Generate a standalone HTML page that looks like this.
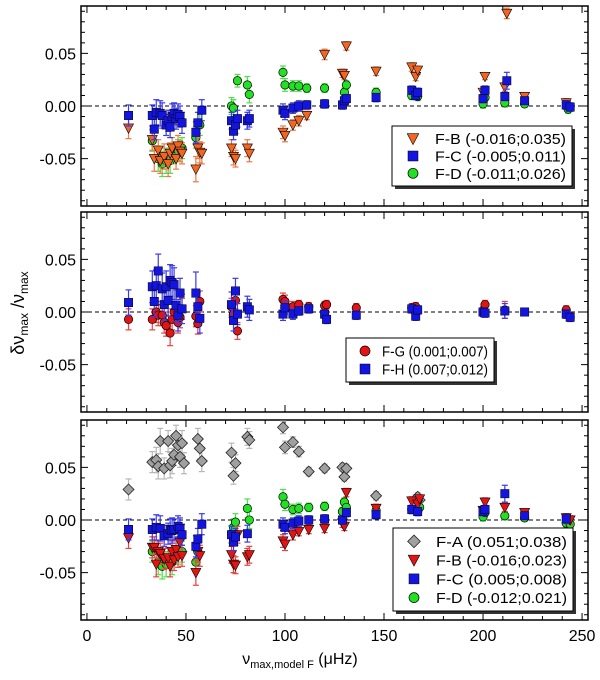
<!DOCTYPE html>
<html><head><meta charset="utf-8"><style>
html,body{margin:0;padding:0;background:#fff;}
svg{display:block;font-family:"Liberation Sans",sans-serif;}
</style></head><body>
<svg id="chart" width="600" height="680" viewBox="0 0 600 680" xmlns="http://www.w3.org/2000/svg"></svg>
<script>
// ---- data: [x (μHz), y (δν/ν), error] ----
const xTicks = [0, 50, 100, 150, 200, 250];
const yTicks = [-0.05, 0.00, 0.05];
const yTickLabels = ["-0.05", "0.00", "0.05"];

const p1FB = [[21,-0.021,0.010],[33,-0.032,0.010],[34,-0.050,0.012],[36,-0.042,0.010],[37,-0.052,0.012],[39,-0.048,0.012],[41,-0.055,0.012],[42,-0.045,0.010],[43,-0.040,0.010],[45,-0.050,0.010],[46,-0.038,0.010],[47,-0.043,0.010],[48,-0.045,0.010],[55,-0.060,0.012],[56,-0.040,0.010],[57,-0.044,0.010],[58,-0.045,0.010],[73,-0.040,0.008],[74,-0.048,0.008],[75,-0.050,0.008],[81,-0.040,0.008],[82,-0.045,0.008],[99,-0.025,0.006],[100,-0.028,0.006],[104,-0.018,0.005],[107,-0.014,0.005],[111,-0.009,0.004],[120,0.049,0.005],[129,0.031,0.004],[130,0.029,0.004],[131,0.057,0.004],[146,0.033,0.004],[164,0.037,0.004],[166,0.028,0.004],[167,0.034,0.004],[200,0.013,0.004],[201,0.028,0.003],[211,0.018,0.004],[212,0.088,0.005],[221,0.009,0.003],[242,0.003,0.004]];
const p1FC = [[21,-0.009,0.010],[33,-0.009,0.010],[34,-0.022,0.010],[35,-0.006,0.012],[37,-0.007,0.012],[38,-0.009,0.012],[40,-0.018,0.010],[41,-0.014,0.010],[42,-0.020,0.010],[43,-0.010,0.012],[44,-0.007,0.010],[45,-0.012,0.010],[46,-0.008,0.010],[47,-0.010,0.010],[48,-0.016,0.010],[55,-0.025,0.010],[56,-0.016,0.010],[58,-0.004,0.010],[73,-0.014,0.008],[74,-0.024,0.008],[75,-0.018,0.008],[76,-0.012,0.008],[81,-0.014,0.008],[82,-0.012,0.008],[99,-0.004,0.006],[100,-0.007,0.006],[104,-0.002,0.005],[107,0.000,0.005],[111,0.001,0.004],[120,0.002,0.004],[129,0.001,0.004],[130,0.005,0.004],[131,0.007,0.004],[146,0.008,0.004],[164,0.015,0.004],[166,0.010,0.004],[167,0.013,0.004],[200,0.007,0.004],[201,0.015,0.004],[211,0.009,0.004],[212,0.024,0.008],[221,0.005,0.003],[242,0.001,0.004],[244,-0.001,0.004]];
const p1FD = [[33,-0.033,0.010],[36,-0.050,0.012],[38,-0.055,0.012],[40,-0.052,0.012],[42,-0.052,0.012],[44,-0.045,0.010],[46,-0.042,0.010],[48,-0.040,0.010],[55,-0.030,0.010],[57,-0.018,0.010],[73,0.000,0.008],[74,-0.002,0.008],[76,0.024,0.006],[81,0.020,0.008],[82,0.011,0.008],[99,0.032,0.006],[100,0.020,0.006],[104,0.019,0.005],[107,0.019,0.005],[111,0.017,0.004],[120,0.017,0.004],[130,0.013,0.004],[131,0.020,0.004],[146,0.013,0.004],[164,0.010,0.004],[167,0.009,0.004],[200,0.002,0.004],[201,0.008,0.004],[211,0.003,0.004],[221,0.002,0.003],[243,-0.003,0.004]];

const p2FG = [[21,-0.007,0.010],[33,-0.007,0.010],[35,0.000,0.010],[36,-0.003,0.010],[38,-0.003,0.010],[39,-0.010,0.010],[40,-0.013,0.010],[42,-0.020,0.012],[43,-0.007,0.010],[44,0.000,0.010],[46,-0.010,0.010],[47,-0.005,0.010],[48,0.003,0.010],[55,-0.004,0.010],[56,-0.011,0.010],[57,0.010,0.010],[73,0.005,0.008],[74,-0.002,0.008],[75,0.011,0.008],[76,-0.018,0.008],[99,0.012,0.006],[100,0.010,0.006],[104,0.005,0.005],[107,0.007,0.004],[112,0.005,0.004],[120,0.006,0.004],[121,0.007,0.004],[136,0.004,0.004],[164,0.004,0.004],[166,0.005,0.004],[200,0.001,0.004],[201,0.007,0.004],[211,0.002,0.008],[242,0.002,0.004],[244,-0.005,0.004]];
const p2FH = [[21,0.009,0.012],[33,0.024,0.015],[34,0.010,0.015],[35,0.025,0.015],[36,0.039,0.016],[38,0.022,0.015],[39,0.007,0.015],[40,0.024,0.015],[41,0.011,0.015],[42,0.030,0.015],[43,0.028,0.016],[44,0.026,0.016],[45,0.006,0.015],[46,-0.003,0.015],[47,0.018,0.014],[48,0.003,0.014],[55,0.018,0.020],[56,0.005,0.014],[57,-0.006,0.014],[73,0.007,0.012],[74,-0.008,0.010],[75,0.020,0.012],[76,-0.002,0.010],[81,0.005,0.010],[82,0.002,0.010],[99,-0.002,0.006],[100,0.004,0.006],[104,-0.002,0.005],[107,0.001,0.004],[112,0.003,0.004],[120,-0.002,0.004],[121,-0.007,0.004],[136,-0.003,0.004],[164,0.003,0.004],[166,-0.004,0.004],[167,0.002,0.004],[200,0.000,0.004],[201,-0.001,0.004],[211,0.001,0.007],[221,0.000,0.002],[242,-0.002,0.004],[244,-0.005,0.004]];

const p3FA = [[21,0.029,0.010],[33,0.055,0.010],[35,0.057,0.012],[36,0.051,0.012],[37,0.075,0.012],[39,0.049,0.010],[41,0.075,0.010],[42,0.052,0.012],[43,0.056,0.012],[44,0.062,0.010],[45,0.080,0.010],[46,0.071,0.010],[47,0.060,0.010],[48,0.073,0.012],[49,0.054,0.010],[56,0.077,0.010],[57,0.068,0.010],[58,0.056,0.010],[73,0.064,0.009],[74,0.042,0.008],[75,0.054,0.008],[81,0.079,0.008],[82,0.076,0.008],[99,0.088,0.006],[100,0.069,0.006],[104,0.074,0.005],[107,0.065,0.005],[112,0.046,0.004],[120,0.049,0.004],[129,0.050,0.004],[130,0.041,0.004],[131,0.049,0.004],[146,0.023,0.004],[166,0.020,0.004],[167,0.022,0.004],[168,0.019,0.004]];
const p3FB = [[21,-0.017,0.010],[33,-0.026,0.010],[34,-0.026,0.010],[35,-0.042,0.012],[36,-0.030,0.010],[37,-0.032,0.010],[39,-0.037,0.010],[41,-0.036,0.010],[42,-0.044,0.010],[43,-0.030,0.010],[44,-0.038,0.010],[45,-0.028,0.010],[46,-0.035,0.010],[47,-0.021,0.010],[48,-0.034,0.010],[55,-0.050,0.012],[56,-0.030,0.010],[57,-0.034,0.010],[73,-0.033,0.008],[74,-0.042,0.008],[75,-0.043,0.008],[76,-0.014,0.008],[81,-0.035,0.008],[82,-0.033,0.008],[99,-0.020,0.006],[100,-0.023,0.006],[104,-0.014,0.005],[107,-0.011,0.004],[112,-0.009,0.004],[120,-0.008,0.004],[129,-0.003,0.004],[130,-0.006,0.004],[131,0.026,0.004],[146,0.011,0.004],[164,0.018,0.004],[167,0.015,0.004],[168,0.020,0.004],[200,0.009,0.004],[201,0.017,0.004],[211,0.012,0.004],[221,0.007,0.003],[242,0.002,0.004],[244,0.000,0.004]];
const p3FC = [[21,-0.009,0.010],[33,-0.009,0.010],[35,-0.007,0.012],[37,-0.008,0.012],[39,-0.015,0.010],[41,-0.013,0.010],[42,-0.009,0.010],[43,-0.010,0.012],[44,-0.009,0.010],[46,-0.006,0.010],[47,-0.008,0.010],[48,-0.014,0.010],[55,-0.025,0.010],[56,-0.018,0.010],[58,-0.004,0.010],[73,-0.014,0.008],[74,-0.021,0.008],[75,-0.016,0.008],[81,-0.013,0.008],[99,-0.004,0.006],[100,-0.007,0.006],[104,-0.003,0.005],[107,-0.001,0.005],[112,0.000,0.004],[120,0.001,0.004],[129,0.000,0.004],[131,0.007,0.004],[146,0.005,0.004],[164,0.010,0.004],[167,0.008,0.004],[200,0.008,0.004],[201,0.010,0.004],[211,0.025,0.008],[221,0.004,0.003],[242,0.001,0.004]];
const p3FD = [[33,-0.030,0.010],[36,-0.040,0.012],[38,-0.044,0.012],[40,-0.042,0.012],[43,-0.040,0.012],[46,-0.032,0.010],[48,-0.030,0.010],[55,-0.040,0.010],[56,-0.030,0.010],[73,-0.013,0.008],[74,-0.007,0.008],[75,-0.002,0.008],[81,0.011,0.009],[82,0.000,0.008],[99,0.022,0.007],[100,0.015,0.006],[104,0.010,0.005],[107,0.011,0.005],[112,0.012,0.004],[120,0.013,0.004],[129,0.008,0.004],[130,0.017,0.004],[131,0.012,0.004],[146,0.009,0.004],[164,0.010,0.004],[166,0.010,0.004],[168,0.012,0.004],[200,0.003,0.004],[201,0.007,0.004],[211,0.004,0.004],[221,0.002,0.003],[242,-0.003,0.004],[244,-0.004,0.004]];

const NS = "http://www.w3.org/2000/svg";
const svg = document.getElementById("chart");
const X0 = 81, X1 = 588, XMIN = -3, XMAX = 253;
const YMIN = -0.095, YMAX = 0.095;
const panels = [{top:6,bot:206},{top:212,bot:412},{top:420,bot:620}];
function sx(v){return X0 + (v - XMIN) / (XMAX - XMIN) * (X1 - X0);}
function syF(p){return v => p.bot - (v - YMIN) / (YMAX - YMIN) * (p.bot - p.top);}
function mk(tag, attrs, parent){const e=document.createElementNS(NS,tag);for(const k in attrs)e.setAttribute(k,attrs[k]);(parent||svg).appendChild(e);return e;}

const styles = {
  FA:{shape:"diamond",fill:"#a0a0a0",err:"#b8b8b8"},
  FBo:{shape:"tri",fill:"#f26522",err:"#ee7a45"},
  FBr:{shape:"tri",fill:"#e41414",err:"#ee4040"},
  FC:{shape:"square",fill:"#1414e0",err:"#3a3af0"},
  FD:{shape:"circle",fill:"#22e022",err:"#4ce04c"},
  FG:{shape:"circle",fill:"#e41414",err:"#ee4040"},
  FH:{shape:"square",fill:"#1414e0",err:"#3a3af0"}
};
function marker(g, shape, cx, cy, fill, s){
  s = s || 4.2;
  if(shape==="square") return mk("rect",{x:cx-s,y:cy-s,width:2*s,height:2*s,fill:fill,stroke:"#000","stroke-width":0.5},g);
  if(shape==="circle") return mk("circle",{cx:cx,cy:cy,r:s,fill:fill,stroke:"#000","stroke-width":0.7},g);
  if(shape==="tri") return mk("polygon",{points:`${cx-s-0.8},${cy-s} ${cx+s+0.8},${cy-s} ${cx},${cy+s+1}`,fill:fill,stroke:"#000","stroke-width":0.6},g);
  return mk("polygon",{points:`${cx},${cy-s-1.3} ${cx+s+1.3},${cy} ${cx},${cy+s+1.3} ${cx-s-1.3},${cy}`,fill:fill,stroke:"#222","stroke-width":0.8},g);
}
function series(p, data, st, name){
  const sy = syF(p);
  const g = mk("g",{});
  
  
  data.forEach(d => {
    const x = sx(d[0]), y1 = sy(d[1]+d[2]), y2 = sy(d[1]-d[2]);
    mk("line",{x1:x,x2:x,y1:y1,y2:y2,stroke:st.err,"stroke-width":1.2},g);
    mk("line",{x1:x-3,x2:x+3,y1:y1,y2:y1,stroke:st.err,"stroke-width":1.2},g);
    mk("line",{x1:x-3,x2:x+3,y1:y2,y2:y2,stroke:st.err,"stroke-width":1.2},g);
  });
  data.forEach(d => {
    const m = marker(g, st.shape, sx(d[0]), sy(d[1]), st.fill);
    
    
  });
}
function axes(p, idx, showX){
  const sy = syF(p);
  const g = mk("g",{});
  
  
  mk("line",{x1:X0,x2:X1,y1:sy(0),y2:sy(0),stroke:"#000","stroke-width":1,"stroke-dasharray":"4,3"},g);
  for(let v=0; v<=250; v+=10){
    const x=sx(v), L = v%50===0 ? 7 : 4;
    mk("line",{x1:x,x2:x,y1:p.bot,y2:p.bot-L,stroke:"#000","stroke-width":1},g);
    mk("line",{x1:x,x2:x,y1:p.top,y2:p.top+L,stroke:"#000","stroke-width":1},g);
  }
  for(let k=-9; k<=9; k++){
    const y = sy(k/100), L = k%5===0 ? 7 : 4;
    mk("line",{x1:X0,x2:X0+L,y1:y,y2:y,stroke:"#000","stroke-width":1},g);
    mk("line",{x1:X1,x2:X1-L,y1:y,y2:y,stroke:"#000","stroke-width":1},g);
  }
  yTicks.forEach((v,i) => {
    const t = mk("text",{x:76,y:sy(v)+6,"text-anchor":"end","font-size":16,fill:"#000"},g);
    t.textContent = yTickLabels[i];
    
    
  });
  if(showX){
    xTicks.forEach(v => {
      const t = mk("text",{x:sx(v),y:641,"text-anchor":"middle","font-size":16,fill:"#000"},g);
      t.textContent = String(v);
      
      
    });
  }
  mk("rect",{x:X0,y:p.top,width:X1-X0,height:p.bot-p.top,fill:"none",stroke:"#000","stroke-width":1.5},g);
}
function legend(x,y,w,h,entries,name,mOff,tOff){
  const g = mk("g",{});
  
  
  mk("rect",{x:x+3,y:y+3,width:w,height:h,fill:"#333"},g);
  mk("rect",{x:x,y:y,width:w,height:h,fill:"#fff",stroke:"#000","stroke-width":1},g);
  const step = (h-8)/entries.length;
  entries.forEach((e,i) => {
    const cy = y + 4 + step*(i+0.5);
    marker(g, e.st.shape, x+mOff, cy, e.st.fill, 5);
    const t = mk("text",{x:x+tOff,y:cy+5.5,"font-size":15,fill:"#000",textLength:w-tOff-6,lengthAdjust:"spacingAndGlyphs"},g);
    t.textContent = e.label;
    
    
  });
}

axes(panels[0],0,false); axes(panels[1],1,false); axes(panels[2],2,true);
series(panels[0], p1FD, styles.FD, "panel1-f-d");
series(panels[0], p1FB, styles.FBo, "panel1-f-b");
series(panels[0], p1FC, styles.FC, "panel1-f-c");
series(panels[1], p2FG, styles.FG, "panel2-f-g");
series(panels[1], p2FH, styles.FH, "panel2-f-h");
series(panels[2], p3FA, styles.FA, "panel3-f-a");
series(panels[2], p3FD, styles.FD, "panel3-f-d");
series(panels[2], p3FB, styles.FBr, "panel3-f-b");
series(panels[2], p3FC, styles.FC, "panel3-f-c");

legend(392,126,180,60,[{st:styles.FBo,label:"F-B (-0.016;0.035)"},{st:styles.FC,label:"F-C (-0.005;0.011)"},{st:styles.FD,label:"F-D (-0.011;0.026)"}],"legend-panel-1",21,43);
legend(346,338,148,44,[{st:styles.FG,label:"F-G (0.001;0.007)"},{st:styles.FH,label:"F-H (0.007;0.012)"}],"legend-panel-2",19,36);
legend(393,528,180,83,[{st:styles.FA,label:"F-A (0.051;0.038)"},{st:styles.FBr,label:"F-B (-0.016;0.023)"},{st:styles.FC,label:"F-C (0.005;0.008)"},{st:styles.FD,label:"F-D (-0.012;0.021)"}],"legend-panel-3",21,43);

const yt=document.createElementNS(NS,"text");
yt.setAttribute("transform","translate(24,313) rotate(-90)");
yt.setAttribute("text-anchor","middle");
yt.setAttribute("font-size","18");


yt.innerHTML='δν<tspan font-size="12" dy="4">max</tspan><tspan dy="-4"> /ν</tspan><tspan font-size="12" dy="4">max</tspan>';
svg.appendChild(yt);
const xt=document.createElementNS(NS,"text");
xt.setAttribute("x","300");xt.setAttribute("y","664");
xt.setAttribute("text-anchor","middle");
xt.setAttribute("font-size","16");


xt.innerHTML='ν<tspan font-size="11" dy="4">max,model F</tspan><tspan dy="-4"> (μHz)</tspan>';
svg.appendChild(xt);
</script>
</body></html>
